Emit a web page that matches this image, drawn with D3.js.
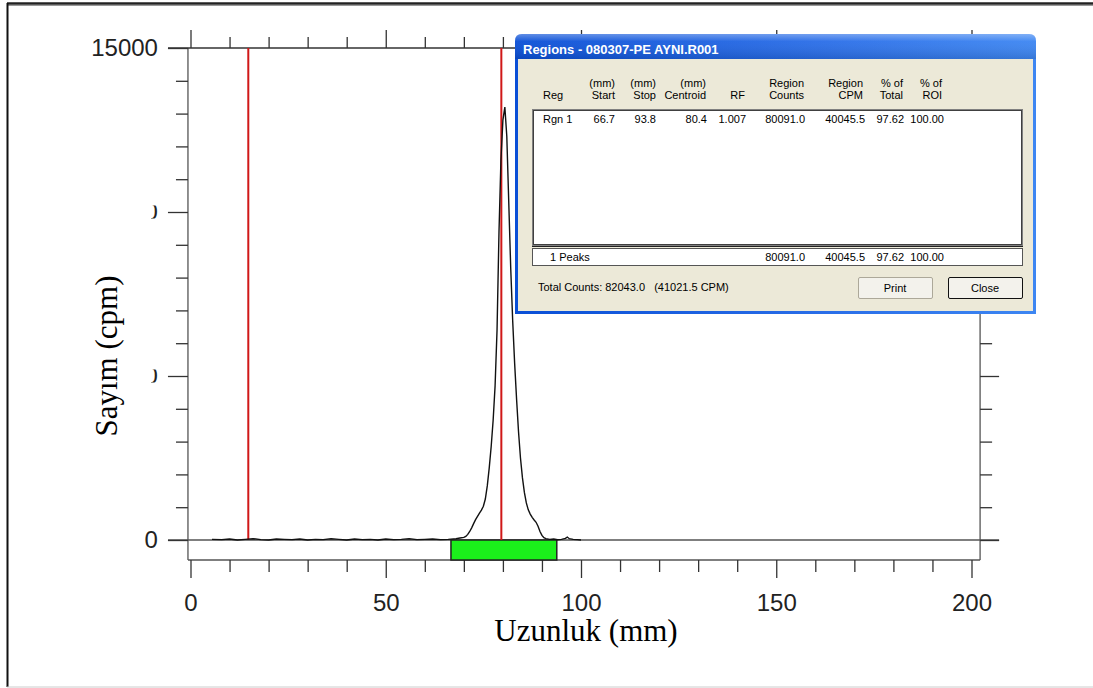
<!DOCTYPE html>
<html>
<head>
<meta charset="utf-8">
<script src="https://cdn.jsdelivr.net/npm/d3@7"></script>
<style>
  html, body { margin: 0; padding: 0; background: #fff; }
  svg { display: block; }
</style>
</head>
<body>
<svg id="chart" width="1093" height="688"></svg>
<script>
// Radio-TLC scan: position along the strip (mm) and counts (cpm)
const positionMm = [5.5, 8, 10, 12, 14, 16, 18, 20, 22, 24, 26, 28, 30, 32, 34, 36, 38, 40,
  42, 44, 46, 48, 50, 52, 54, 56, 58, 60, 62, 64, 66, 68, 69, 70, 70.5, 71, 71.5, 72, 72.5,
  73, 73.5, 74, 74.5, 75, 75.5, 76, 76.5, 77, 77.5, 78, 78.5, 79, 79.5, 80, 80.5, 81, 81.5,
  82, 82.5, 83, 83.5, 84, 84.5, 85, 85.5, 86, 86.5, 87, 87.5, 88, 88.5, 89, 89.5, 90, 90.5,
  91, 92, 93, 94, 95, 96, 96.5, 97, 98, 99, 100];
const countsCpm = [20, 10, 30, 0, 20, 40, 10, 0, 30, 20, 10, 30, 0, 20, 10, 40, 20, 0,
  30, 10, 20, 0, 30, 10, 20, 40, 10, 20, 30, 10, 20, 40, 60, 80, 110, 170, 260, 370, 500,
  620, 720, 820, 910, 1030, 1250, 1650, 2200, 2850, 3650, 4700, 6400, 9400, 11600, 12800, 13200, 12300, 10300,
  8300, 6700, 5400, 4300, 3300, 2500, 1900, 1450, 1130, 920, 790, 690, 610, 540, 420, 260, 140, 70,
  40, 20, 30, 10, 20, 50, 90, 40, 20, 10, 0];

// Region-of-interest markers (mm) and the integrated region
const markerMm = [14.8, 79.6];
const regionStartStop = [66.7, 93.8];

// Axis ticks
const xMajorTicks = [0, 50, 100, 150, 200];
const xMinorTicks = [10, 20, 30, 40, 60, 70, 80, 90, 110, 120, 130, 140, 160, 170, 180, 190];
const yMajorTicks = [0, 5000, 10000, 15000];
const yMinorTicks = [1000, 2000, 3000, 4000, 6000, 7000, 8000, 9000, 11000, 12000, 13000, 14000];

// Regions dialog contents
const dialogTitle = "Regions - 080307-PE AYNI.R001";
const headerTop = ["", "(mm)", "(mm)", "(mm)", "", "Region", "Region", "% of", "% of"];
const headerBottom = ["Reg", "Start", "Stop", "Centroid", "RF", "Counts", "CPM", "Total", "ROI"];
const regionRow = ["Rgn 1", "66.7", "93.8", "80.4", "1.007", "80091.0", "40045.5", "97.62", "100.00"];
const peaksRow = ["1 Peaks", "", "", "", "", "80091.0", "40045.5", "97.62", "100.00"];
const totalLine = "Total Counts: 82043.0   (41021.5 CPM)";
const buttonLabels = ["Print", "Close"];

const svg = d3.select("#chart");

// page frame
svg.append("line").attr("x1", 7).attr("x2", 1093).attr("y1", 3.5).attr("y2", 3.5)
  .attr("stroke", "#222").attr("stroke-width", 2.5);
svg.append("line").attr("x1", 7).attr("x2", 1093).attr("y1", 5.5).attr("y2", 5.5)
  .attr("stroke", "#999").attr("stroke-width", 1);
svg.append("line").attr("x1", 7.5).attr("x2", 7.5).attr("y1", 3).attr("y2", 687)
  .attr("stroke", "#111").attr("stroke-width", 2);
svg.append("line").attr("x1", 7).attr("x2", 1093).attr("y1", 687).attr("y2", 687)
  .attr("stroke", "#ccc").attr("stroke-width", 1);

const x = d3.scaleLinear().domain([0, 200]).range([190.5, 971.5]);
const y = d3.scaleLinear().domain([0, 15000]).range([540, 48]);

const leftX = x(-0.65), rightX = x(202.2);
const bottomY = 560;
const axisColor = "#555";
const labelFont = "'Liberation Sans', Arial, sans-serif";

const g = svg.append("g");

// plot frame lines
g.append("line").attr("x1", leftX).attr("x2", leftX).attr("y1", y(15000)).attr("y2", bottomY)
  .attr("stroke", axisColor).attr("stroke-width", 1.3);
g.append("line").attr("x1", rightX).attr("x2", rightX).attr("y1", y(15000)).attr("y2", bottomY)
  .attr("stroke", axisColor).attr("stroke-width", 1.3);
g.append("line").attr("x1", leftX).attr("x2", rightX).attr("y1", bottomY).attr("y2", bottomY)
  .attr("stroke", axisColor).attr("stroke-width", 1.3);
g.append("line").attr("x1", leftX - 20).attr("x2", rightX + 19).attr("y1", y(15000)).attr("y2", y(15000))
  .attr("stroke", "#333").attr("stroke-width", 1.3);
g.append("line").attr("x1", leftX - 20).attr("x2", rightX + 19).attr("y1", y(0)).attr("y2", y(0))
  .attr("stroke", axisColor).attr("stroke-width", 1.3);

function styleAxis(sel) {
  sel.select(".domain").remove();
  sel.selectAll(".tick line").attr("stroke", "#333").attr("stroke-width", 1.3);
  sel.selectAll("text").attr("font-family", labelFont).attr("font-size", 24).attr("fill", "#222");
}

// bottom axis
g.append("g").attr("transform", `translate(0,${bottomY})`)
  .call(d3.axisBottom(x).tickValues(xMinorTicks).tickSize(12).tickFormat(""))
  .call(styleAxis);
g.append("g").attr("transform", `translate(0,${bottomY})`)
  .call(d3.axisBottom(x).tickValues(xMajorTicks).tickSize(18).tickPadding(16).tickFormat(d3.format("d")))
  .call(styleAxis);

// top axis
g.append("g").attr("transform", `translate(0,${y(15000)})`)
  .call(d3.axisTop(x).tickValues(xMinorTicks).tickSize(11).tickFormat(""))
  .call(styleAxis);
g.append("g").attr("transform", `translate(0,${y(15000)})`)
  .call(d3.axisTop(x).tickValues(xMajorTicks).tickSize(18).tickFormat(""))
  .call(styleAxis);

// left axis
g.append("g").attr("transform", `translate(${leftX},0)`)
  .call(d3.axisLeft(y).tickValues(yMinorTicks).tickSize(12).tickFormat(""))
  .call(styleAxis);
const leftMajor = g.append("g").attr("transform", `translate(${leftX},0)`)
  .call(d3.axisLeft(y).tickValues(yMajorTicks).tickSize(20).tickPadding(10).tickFormat(d3.format("d")))
  .call(styleAxis);

// the middle labels are partly hidden behind the axis title box
const defs = svg.append("defs");
leftMajor.selectAll(".tick").filter(d => d === 5000 || d === 10000).each(function (d) {
  const id = "labclip" + d;
  defs.append("clipPath").attr("id", id)
    .append("rect").attr("x", -37).attr("y", -7).attr("width", 12).attr("height", 13);
  d3.select(this).select("text").attr("clip-path", `url(#${id})`);
});

// right axis
g.append("g").attr("transform", `translate(${rightX},0)`)
  .call(d3.axisRight(y).tickValues(yMinorTicks).tickSize(12).tickFormat(""))
  .call(styleAxis);
g.append("g").attr("transform", `translate(${rightX},0)`)
  .call(d3.axisRight(y).tickValues(yMajorTicks).tickSize(19).tickFormat(""))
  .call(styleAxis);

// region bar
g.append("rect")
  .attr("x", x(regionStartStop[0])).attr("y", y(0))
  .attr("width", x(regionStartStop[1]) - x(regionStartStop[0]))
  .attr("height", bottomY - y(0))
  .attr("fill", "#1bef1b").attr("stroke", "#222").attr("stroke-width", 1.5);

// marker lines
g.selectAll(".marker").data(markerMm).join("line").attr("class", "marker")
  .attr("x1", d => x(d)).attr("x2", d => x(d))
  .attr("y1", y(15000)).attr("y2", y(0))
  .attr("stroke", "#d01818").attr("stroke-width", 2);

// scan trace
const scan = positionMm.map((p, i) => [p, countsCpm[i]]);
g.append("path").datum(scan)
  .attr("fill", "none").attr("stroke", "#111").attr("stroke-width", 1.4)
  .attr("d", d3.line().x(d => x(d[0])).y(d => y(d[1])));

// axis titles
svg.append("text").attr("x", 586).attr("y", 641).attr("text-anchor", "middle")
  .attr("font-family", "'Liberation Serif', 'Times New Roman', serif").attr("font-size", 31)
  .attr("fill", "#000").text("Uzunluk (mm)");
svg.append("text").attr("transform", "translate(117,356) rotate(-90)").attr("text-anchor", "middle")
  .attr("font-family", "'Liberation Serif', 'Times New Roman', serif").attr("font-size", 31)
  .attr("fill", "#000").text("Sayım (cpm)");

// ---- Regions dialog ----
const dlg = svg.append("g");
const dx0 = 515, dy0 = 34, dw = 521, dh = 280;
const grad = defs.append("linearGradient").attr("id", "titlebar").attr("x1", 0).attr("x2", 1).attr("y1", 0).attr("y2", 0);
grad.append("stop").attr("offset", "0%").attr("stop-color", "#0a4fd6");
grad.append("stop").attr("offset", "60%").attr("stop-color", "#2a6ee8");
grad.append("stop").attr("offset", "100%").attr("stop-color", "#3d86f2");
const vgrad = defs.append("linearGradient").attr("id", "titleshade").attr("x1", 0).attr("x2", 0).attr("y1", 0).attr("y2", 1);
vgrad.append("stop").attr("offset", "0%").attr("stop-color", "#fff").attr("stop-opacity", 0.35);
vgrad.append("stop").attr("offset", "30%").attr("stop-color", "#fff").attr("stop-opacity", 0.05);
vgrad.append("stop").attr("offset", "100%").attr("stop-color", "#000").attr("stop-opacity", 0.12);

// window body with blue frame
dlg.append("path")
  .attr("d", `M${dx0},${dy0 + 7} Q${dx0},${dy0} ${dx0 + 7},${dy0} L${dx0 + dw - 7},${dy0} Q${dx0 + dw},${dy0} ${dx0 + dw},${dy0 + 7} L${dx0 + dw},${dy0 + dh} L${dx0},${dy0 + dh} Z`)
  .attr("fill", "url(#titlebar)");
dlg.append("rect").attr("x", dx0 + 3).attr("y", dy0 + 25).attr("width", dw - 6).attr("height", dh - 28)
  .attr("fill", "#ece9d8");
dlg.append("path")
  .attr("d", `M${dx0},${dy0 + 7} Q${dx0},${dy0} ${dx0 + 7},${dy0} L${dx0 + dw - 7},${dy0} Q${dx0 + dw},${dy0} ${dx0 + dw},${dy0 + 7} L${dx0 + dw},${dy0 + 25} L${dx0},${dy0 + 25} Z`)
  .attr("fill", "url(#titleshade)");
dlg.append("text").attr("x", 523).attr("y", 54)
  .attr("font-family", labelFont).attr("font-weight", "bold").attr("font-size", 13)
  .attr("fill", "#fff").text(dialogTitle);

const uiFont = "'Liberation Sans', Arial, sans-serif";
// column anchors: [x, anchor]
const colX = [[543, "start"], [615, "end"], [656, "end"], [707, "end"], [746, "end"],
  [805, "end"], [865, "end"], [904, "end"], [944, "end"]];
const headX = [[543, "start"], [615, "end"], [656, "end"], [706, "end"], [745, "end"],
  [804, "end"], [863, "end"], [903, "end"], [942, "end"]];

function rowText(values, baseline, cols) {
  dlg.append("g").selectAll("text").data(values).join("text")
    .attr("x", (d, i) => cols[i][0]).attr("y", baseline)
    .attr("text-anchor", (d, i) => cols[i][1])
    .attr("font-family", uiFont).attr("font-size", 11).attr("fill", "#000")
    .text(d => d);
}
rowText(headerTop, 87, headX);
rowText(headerBottom, 99, headX);

// list box (sunken)
dlg.append("rect").attr("x", 532.5).attr("y", 109.5).attr("width", 490).attr("height", 136)
  .attr("fill", "#fff").attr("stroke", "#808080");
dlg.append("rect").attr("x", 533.5).attr("y", 110.5).attr("width", 488).attr("height", 134)
  .attr("fill", "none").attr("stroke", "#404040");
dlg.append("line").attr("x1", 532).attr("x2", 1023).attr("y1", 246.5).attr("y2", 246.5).attr("stroke", "#222");
rowText(regionRow, 123, colX);

// peaks summary box
dlg.append("rect").attr("x", 532.5).attr("y", 248.5).attr("width", 490).attr("height", 17)
  .attr("fill", "#fff").attr("stroke", "#555");
rowText(peaksRow, 261, [[550, "start"]].concat(colX.slice(1)));

dlg.append("text").attr("x", 538).attr("y", 291)
  .attr("font-family", uiFont).attr("font-size", 11).attr("fill", "#000")
  .attr("xml:space", "preserve").style("white-space", "pre").text(totalLine);

// buttons
const btn = [[858, 74, "#aca899"], [948, 74, "#111"]];
btn.forEach((b, i) => {
  dlg.append("rect").attr("x", b[0] + 0.5).attr("y", 277.5).attr("width", b[1]).attr("height", 21)
    .attr("rx", 1.5).attr("fill", "#f3f2ec").attr("stroke", b[2]);
  dlg.append("text").attr("x", b[0] + b[1] / 2).attr("y", 292).attr("text-anchor", "middle")
    .attr("font-family", uiFont).attr("font-size", 11).attr("fill", "#000").text(buttonLabels[i]);
});
</script>
</body>
</html>
